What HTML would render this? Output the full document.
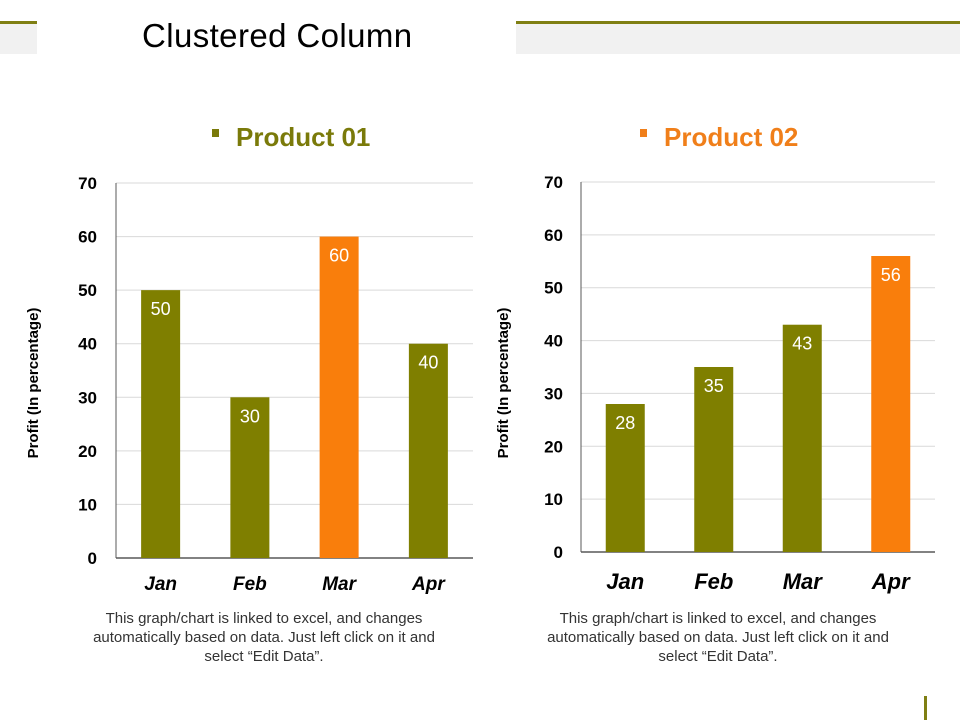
<!DOCTYPE html>
<html><head><meta charset="utf-8"><style>
body{margin:0;width:960px;height:720px;background:#fff;overflow:hidden;font-family:"Liberation Sans",sans-serif;position:relative}
.abs{position:absolute}
.note{position:absolute;width:370px;text-align:center;font-size:15px;line-height:19px;color:#333}
</style></head><body>
<div class="abs" style="left:0;top:21px;width:37px;height:3px;background:#7f7f13"></div>
<div class="abs" style="left:0;top:24px;width:37px;height:30px;background:#f1f1f1"></div>
<div class="abs" style="left:516px;top:21px;width:444px;height:3px;background:#7f7f13"></div>
<div class="abs" style="left:516px;top:24px;width:444px;height:30px;background:#f1f1f1"></div>
<div class="abs" style="left:142px;top:17px;font-size:33px;color:#000;letter-spacing:0.4px">Clustered Column</div>
<div class="note" style="left:79px;top:609px">This graph/chart is linked to excel, and changes automatically based on data. Just left click on it and select “Edit Data”.</div>
<div class="note" style="left:533px;top:609px">This graph/chart is linked to excel, and changes automatically based on data. Just left click on it and select “Edit Data”.</div>
<div class="abs" style="left:924px;top:696px;width:3px;height:24px;background:#7f7f13"></div>
<svg id="svg" width="960" height="720" style="position:absolute;left:0;top:0"></svg>
<script>
const categories=["Jan","Feb","Mar","Apr"];
const product1=[50,30,60,40];
const product2=[28,35,43,56];
const highlight1=[false,false,true,false];
const highlight2=[false,false,false,true];
const yTicks=[0,10,20,30,40,50,60,70];
const OLIVE="#7f7f00",ORANGE="#f97e0c";
const svg=document.getElementById('svg');
const NS="http://www.w3.org/2000/svg";
function mk(tag,attrs,txt){const e=document.createElementNS(NS,tag);for(const k in attrs)e.setAttribute(k,attrs[k]);if(txt!==undefined)e.textContent=txt;svg.appendChild(e);return e;}
function chart(cfg,values,hl,id){
  const {x0,x1,yTop,yBot,ymax,ytx,catY,catSize,legX,legTitle,legColor,axX}=cfg;
  const y=v=>yBot-(v/ymax)*(yBot-yTop);
  const bw=(x1-x0)/categories.length;
  const xc=i=>x0+bw*(i+0.5);
  yTicks.forEach(t=>{
    if(t>0){const g=mk('line',{x1:x0,x2:x1,y1:y(t),y2:y(t),stroke:'#d9d9d9','stroke-width':1});
    }
    const l=mk('text',{x:ytx,y:y(t)+6,'text-anchor':'end','font-size':17,'font-weight':'bold',fill:'#000'},t);
    
  });
  const ax=mk('line',{x1:x0,x2:x0,y1:yTop,y2:yBot,stroke:'#595959','stroke-width':1});
  
  const bx=mk('line',{x1:x0,x2:x1,y1:yBot,y2:yBot,stroke:'#595959','stroke-width':1.5});
  
  values.forEach((v,i)=>{
    const r=mk('rect',{x:xc(i)-19.5,y:y(v),width:39,height:yBot-y(v),fill:hl[i]?ORANGE:OLIVE});
    
    const t=mk('text',{x:xc(i),y:y(v)+25,'text-anchor':'middle','font-size':18,fill:'#fff'},v);
    
    const c=mk('text',{x:xc(i),y:catY,'text-anchor':'middle','font-size':catSize,'font-weight':'bold','font-style':'italic',fill:'#000'},categories[i]);
    
  });
  const at=mk('text',{x:0,y:0,transform:`translate(${axX},383) rotate(-90)`,'text-anchor':'middle','font-size':15,'font-weight':'bold',fill:'#000'},'Profit  (In percentage)');
  
  const lm=mk('rect',{x:legX,y:129,width:7,height:8,fill:legColor});
  
  const lt=mk('text',{x:legX+24,y:146,'font-size':26,'font-weight':'bold',fill:legColor},legTitle);
  
}
chart({x0:116,x1:473,yTop:183,yBot:558,ymax:70,ytx:97,catY:590,catSize:19,legX:212,legTitle:'Product 01',legColor:'#7a7a0a',axX:38},product1,highlight1,'chart1');
chart({x0:581,x1:935,yTop:182,yBot:552,ymax:70,ytx:563,catY:589,catSize:22,legX:640,legTitle:'Product 02',legColor:'#f07f1a',axX:508},product2,highlight2,'chart2');
</script>
</body></html>
